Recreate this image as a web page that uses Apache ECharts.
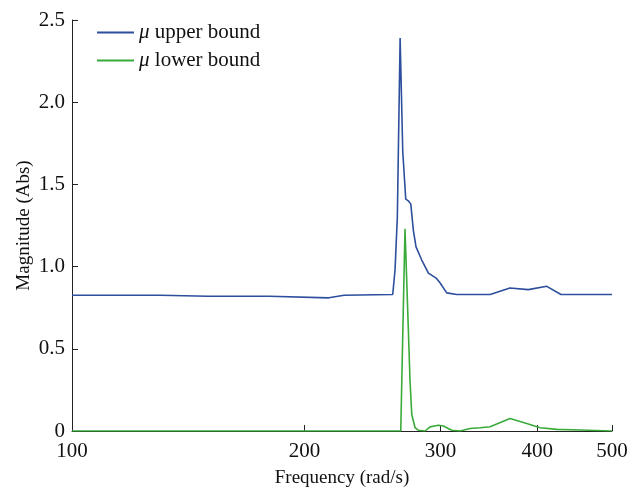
<!DOCTYPE html>
<html>
<head>
<meta charset="utf-8">
<script src="https://cdn.jsdelivr.net/npm/echarts@6/dist/echarts.min.js"></script>
<style>html,body{margin:0;padding:0;background:#fff}#c{width:632px;height:493px}</style>
</head>
<body>
<div id="c"></div>
<script>
const xTicks = [100, 200, 300, 400, 500];
const yTicks = [0, 0.5, 1.0, 1.5, 2.0, 2.5];
const seriesNames = ['upper bound', 'lower bound'];

const freqUpper = [100, 130, 150, 180, 215, 225, 260.1, 261.9, 263.7, 265.9, 268.0, 270.4, 272.5, 274.5, 276.6, 278.8, 283.6, 289.3, 296.0, 299.6, 305.5, 314.8, 337.5, 347.7, 368.9, 389.6, 411.7, 429.5, 500];
const magUpper  = [0.826, 0.826, 0.82, 0.82, 0.81, 0.826, 0.83, 0.98, 1.30, 2.39, 1.70, 1.41, 1.40, 1.38, 1.22, 1.12, 1.04, 0.96, 0.93, 0.90, 0.84, 0.83, 0.83, 0.83, 0.87, 0.86, 0.88, 0.83, 0.83];

const freqLower = [100, 266.4, 269.8, 273.9, 275.3, 278.0, 280.7, 286.4, 290.7, 298.0, 302.5, 310.1, 317.9, 327.5, 337.5, 347.7, 368.9, 387.8, 403.6, 424.1, 454.6, 500];
const magLower  = [0, 0, 1.23, 0.30, 0.10, 0.02, 0.005, 0, 0.025, 0.035, 0.03, 0.005, 0, 0.015, 0.02, 0.026, 0.076, 0.046, 0.02, 0.01, 0.006, 0];

const zip = (a, b) => a.map((v, i) => [v, b[i]]);
const font = 'Liberation Serif';

const chart = echarts.init(document.getElementById('c'));
chart.setOption({
  animation: false,
  backgroundColor: '#fff',
  grid: { left: 72, right: 20, top: 20, bottom: 57 },
  legend: {
    orient: 'vertical', left: 92, top: 17, itemGap: 7,
    itemWidth: 37, itemHeight: 2, icon: 'rect',
    textStyle: {
      fontFamily: font, fontSize: 21, color: '#111',
      rich: { i: { fontFamily: font, fontStyle: 'italic', fontSize: 21, color: '#111' } }
    },
    formatter: n => '{i|μ} ' + n,
    data: seriesNames
  },
  xAxis: {
    type: 'log', logBase: 10, min: 100, max: 500,
    name: 'Frequency (rad/s)', nameLocation: 'middle', nameGap: 38,
    nameTextStyle: { fontFamily: font, fontSize: 19, color: '#111' },
    axisLine: { lineStyle: { color: '#222', width: 1 } },
    axisTick: { inside: true, length: 6, customValues: xTicks, lineStyle: { color: '#222' } },
    axisLabel: { customValues: xTicks, fontFamily: font, fontSize: 21, color: '#111', margin: 10, formatter: v => String(Math.round(v)) },
    splitLine: { show: false }, minorTick: { show: false }
  },
  yAxis: {
    type: 'value', min: 0, max: 2.5, interval: 0.5,
    name: 'Magnitude (Abs)', nameLocation: 'middle', nameGap: 38, nameMoveOverlap: false,
    nameTextStyle: { fontFamily: font, fontSize: 19, color: '#111' },
    axisLine: { show: true, lineStyle: { color: '#222', width: 1 } },
    axisTick: { show: true, inside: true, length: 6, lineStyle: { color: '#222' } },
    axisLabel: { fontFamily: font, fontSize: 21, color: '#111', margin: 7, formatter: v => v === 0 ? '0' : v.toFixed(1) },
    splitLine: { show: false }
  },
  series: [
    { name: seriesNames[0], type: 'line', data: zip(freqUpper, magUpper), showSymbol: false,
      color: '#2d4f9e', lineStyle: { width: 1.6, color: '#2d4f9e' } },
    { name: seriesNames[1], type: 'line', data: zip(freqLower, magLower), showSymbol: false,
      color: '#3aab3a', lineStyle: { width: 1.6, color: '#3aab3a' } }
  ]
});
</script>
</body>
</html>
